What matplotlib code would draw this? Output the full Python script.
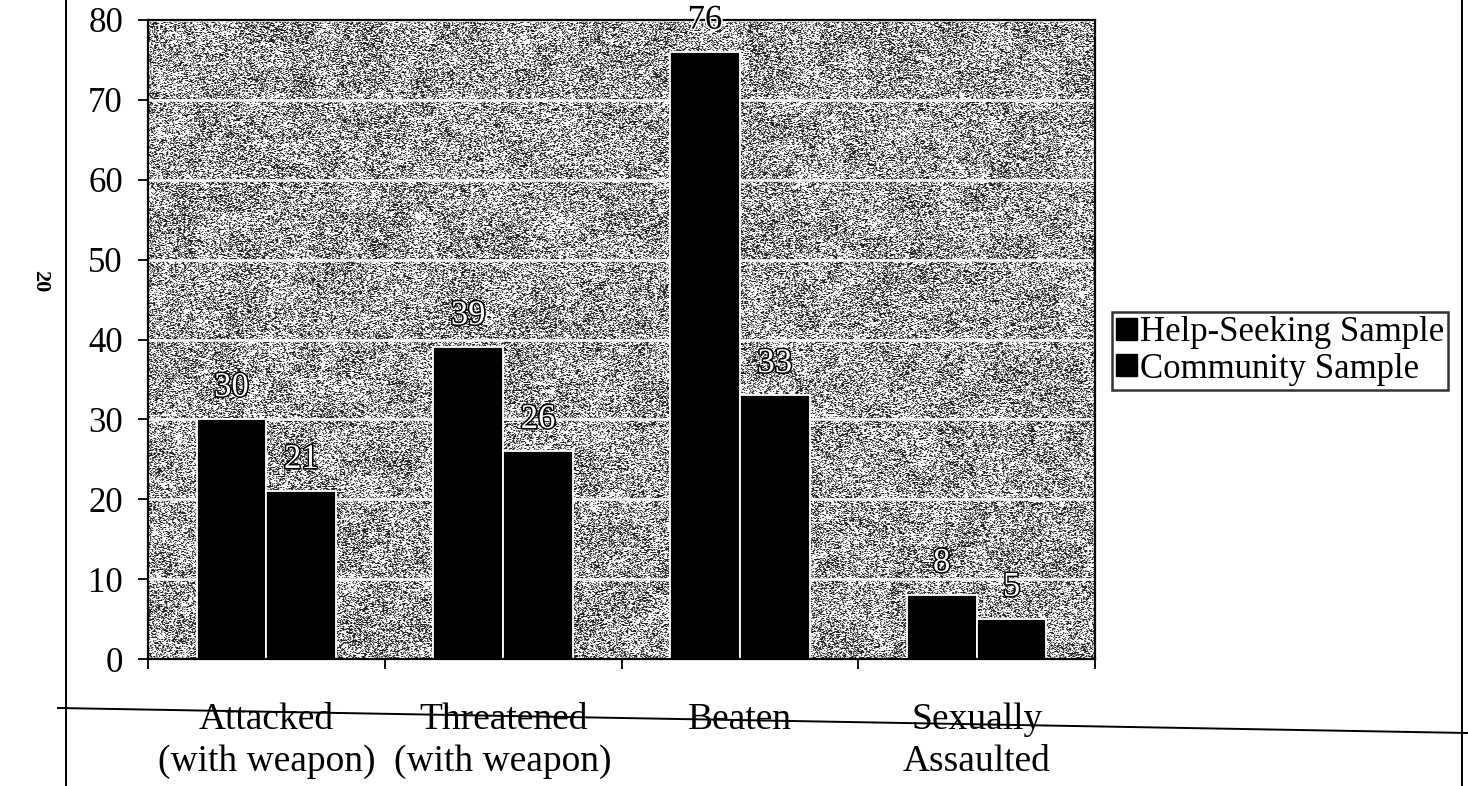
import numpy as np
import matplotlib
matplotlib.use("Agg")
import matplotlib.pyplot as plt
from matplotlib.patches import Rectangle
from matplotlib.lines import Line2D
import matplotlib.patheffects as pe

plt.rcParams["font.family"] = ["Liberation Serif", "DejaVu Serif"]

# ── data ──────────────────────────────────────────────────────────────────────
categories = ["Attacked\n(with weapon)", "Threatened\n(with weapon)",
              "Beaten", "Sexually\nAssaulted"]
help_seeking = [30, 39, 76, 8]
community = [21, 26, 33, 5]
series_names = ["Help-Seeking Sample", "Community Sample"]
y_ticks = [0, 10, 20, 30, 40, 50, 60, 70, 80]

W, H, DPI = 1468, 786, 100
fig = plt.figure(figsize=(W / DPI, H / DPI), dpi=DPI, facecolor="white")
ax = fig.add_axes([148 / W, 1 - 659 / H, (1095 - 148) / W, (659 - 20) / H])

n = len(categories)
x = np.arange(n)
bw = 0.295
ymax = 80

# speckled grey fill of the plot area
rng = np.random.default_rng(11)
th, tw = 640, 948
grain = rng.random((th, tw))
coarse = rng.random((th // 24 + 1, tw // 24 + 1))
shade = np.kron(coarse, np.ones((24, 24)))[:th, :tw]
tex = np.where(grain > 0.40 + 0.18 * (shade - 0.5), 0.97, 0.15)
tex = 0.75 * tex + 0.25 * np.roll(tex, 1, axis=1)
ax.imshow(tex, extent=(-0.5, n - 0.5, 0, ymax), aspect="auto", cmap="gray",
          vmin=0, vmax=1, interpolation="nearest", zorder=0)

ax.set_xlim(-0.5, n - 0.5)
ax.set_ylim(0, ymax)
ax.set_axisbelow(True)
ax.yaxis.grid(True, color="white", lw=1.8)

b1 = ax.bar(x - bw / 2, help_seeking, bw, color="black", edgecolor="white",
            lw=1.3, zorder=2)
b2 = ax.bar(x + bw / 2, community, bw, color="black", edgecolor="white",
            lw=1.3, zorder=2)

# value labels: outlined white inside the grey field, plain black above it
for bars, vals in [(b1, help_seeking), (b2, community)]:
    for r, v in zip(bars, vals):
        above = v > ymax - 6
        fc, ec = ("black", "white") if above else ("white", "black")
        ax.annotate(str(v), (r.get_x() + r.get_width() / 2, v),
                    xytext=(0, 11), textcoords="offset points",
                    ha="center", va="bottom", fontsize=25, color=fc,
                    zorder=4, annotation_clip=False,
                    path_effects=[pe.withStroke(linewidth=2.2, foreground=ec)])

# axes, ticks
for s in ax.spines.values():
    s.set_color("black")
    s.set_linewidth(1.6)
ax.set_yticks(y_ticks)
ax.tick_params(axis="y", direction="out", length=7, width=1.3, pad=11,
               labelsize=25)
ax.set_xticks(np.arange(-0.5, n, 1.0))
ax.set_xticklabels([])
ax.tick_params(axis="x", which="major", direction="out", length=7, width=1.3)
ax.set_xticks(x, minor=True)
ax.set_xticklabels(categories, minor=True, fontsize=27, linespacing=1.3)
ax.tick_params(axis="x", which="minor", length=0, pad=31)

# legend
handles = [Rectangle((0, 0), 1, 1, facecolor="black", edgecolor="black")
           for _ in series_names]
leg = fig.legend(handles, series_names, loc="upper left",
                 bbox_to_anchor=(1112 / W, 1 - 312 / H), fontsize=25,
                 frameon=True, fancybox=False, borderpad=0.12,
                 handlelength=0.6, handleheight=0.6, handletextpad=0.08,
                 labelspacing=0.1, borderaxespad=0)
leg.get_frame().set_edgecolor("black")
leg.get_frame().set_linewidth(1.8)

# page rules and page number from the printed sheet
fig.add_artist(Line2D([66 / W, 66 / W], [0, 1], color="black", lw=1.4))
fig.add_artist(Line2D([1462 / W, 1462 / W], [0, 1], color="black", lw=1.4))
fig.add_artist(Line2D([58 / W, 1], [1 - 708 / H, 1 - 733 / H],
                      color="black", lw=1.4))
fig.text(40 / W, 1 - 281 / H, "20", rotation=-90, fontsize=16,
         fontweight="bold", ha="center", va="center")

fig.savefig("out.png", dpi=DPI, facecolor="white")
